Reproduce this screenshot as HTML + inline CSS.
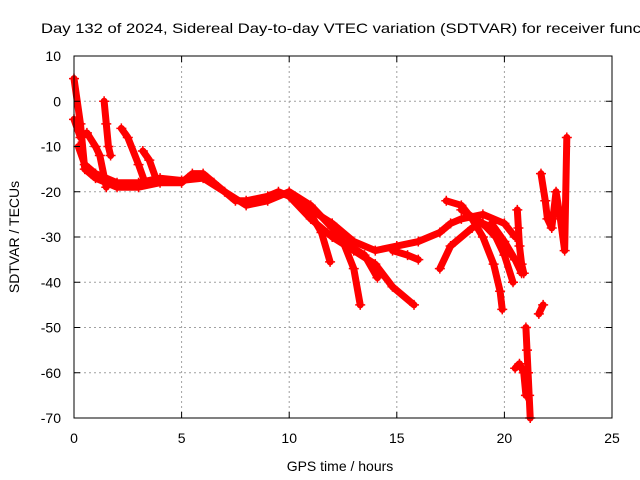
<!DOCTYPE html>
<html><head><meta charset="utf-8"><style>
body{margin:0;background:#fff;}
svg{display:block;font-family:"Liberation Sans",sans-serif;}
</style></head><body>
<svg id="chart" width="640" height="480" viewBox="0 0 640 480" xmlns="http://www.w3.org/2000/svg">
<rect width="640" height="480" fill="#fff"/>
<text x="41" y="33" font-size="14" textLength="600" lengthAdjust="spacingAndGlyphs" fill="#000">Day 132 of 2024, Sidereal Day-to-day VTEC variation (SDTVAR) for receiver func</text>
<g id="grid"></g>
<g id="series"></g>
<rect x="74" y="56" width="538" height="362" fill="none" stroke="#000" stroke-width="1"/>
<g id="ticks"></g>
<text x="340" y="471" font-size="14" text-anchor="middle">GPS time / hours</text>
<text transform="translate(19,237) rotate(-90)" font-size="14" text-anchor="middle">SDTVAR / TECUs</text>
</svg>
<script>
const xTicks=[0,5,10,15,20,25];
const yTicks=[10,0,-10,-20,-30,-40,-50,-60,-70];
const track1=[[0,5],[0.3,-5],[0.5,-15],[1,-17],[2,-19],[3,-19],[4,-18],[5,-18],[5.5,-16],[6,-16],[6.5,-18],[7.5,-22],[8,-22],[9,-21],[9.5,-20],[10,-21],[11,-24],[12,-27],[13,-31],[14,-33],[15,-32],[16,-31],[17,-29],[17.5,-27],[18,-26],[19,-25],[20,-27],[20.5,-30]];
const track2=[[0.2,-10],[0.5,-14],[1,-16],[2,-18],[3,-18],[4,-17],[5,-17.5],[6,-17],[7,-20],[8,-23],[9,-22],[10,-20],[11,-23],[12,-28],[12.5,-31],[13,-37],[13.3,-45]];
const track3=[[10,-21],[11,-26],[12,-30],[13,-33],[14,-36],[14.8,-41],[15.8,-45]];
const track4=[[11,-25],[11.5,-29],[11.9,-35.5]];
const track5=[[12.5,-31],[13.5,-34],[14.1,-39]];
const track6=[[0,-4],[0.3,-8],[0.6,-7],[1,-10],[1.2,-12],[1.5,-19]];
const track7=[[1.4,0],[1.5,-5],[1.6,-10],[1.7,-12]];
const track8=[[2.2,-6],[2.5,-8],[3,-14],[3.3,-18]];
const track9=[[3.2,-11],[3.5,-13],[3.8,-17]];
const track10=[[14.8,-33],[15.5,-34],[16,-35]];
const track11=[[17,-37],[17.5,-32],[18.5,-28],[19,-27],[19.5,-28],[20,-32],[20.5,-35]];
const track12=[[17.3,-22],[18,-23],[18.5,-26],[19,-30],[19.5,-36],[19.8,-42],[19.9,-46]];
const track13=[[18,-24],[19,-27],[19.6,-30],[20,-34],[20.4,-40]];
const track14=[[19.4,-27],[20,-31],[20.5,-35],[20.8,-38]];
const track15=[[20.6,-24],[20.65,-28],[20.7,-32],[20.8,-36],[20.9,-38]];
const track16=[[20.5,-59],[20.7,-58],[20.9,-60],[21,-65]];
const track17=[[21,-50],[21.05,-55],[21.1,-60],[21.15,-65],[21.2,-70]];
const track18=[[21.6,-47],[21.8,-45]];
const track19=[[21.7,-16],[21.9,-22],[22,-26],[22.2,-28],[22.4,-20],[22.6,-26],[22.8,-33],[22.9,-8]];
const tracks=[track1,track2,track3,track4,track5,track6,track7,track8,track9,track10,track11,track12,track13,track14,track15,track16,track17,track18,track19];
const X0=74,X1=612,Y0=418,Y1=56,XMIN=0,XMAX=25,YMIN=-70,YMAX=10;
const sx=v=>X0+(v-XMIN)/(XMAX-XMIN)*(X1-X0);
const sy=v=>Y0-(v-YMIN)/(YMAX-YMIN)*(Y0-Y1);
const NS="http://www.w3.org/2000/svg";
const grid=document.getElementById('grid'),ticks=document.getElementById('ticks'),series=document.getElementById('series');
function mk(tag,attrs,parent){const e=document.createElementNS(NS,tag);for(const k in attrs)e.setAttribute(k,attrs[k]);parent.appendChild(e);return e;}
xTicks.forEach(t=>{
  const x=sx(t);
  if(t>XMIN&&t<XMAX){const g=mk('line',{x1:x,x2:x,y1:Y0,y2:Y1,stroke:'#a0a0a0','stroke-dasharray':'2,3'},grid);
  
  }
  const l=mk('text',{x:x,y:Y0+25,'font-size':14,'text-anchor':'middle'},ticks);l.textContent=t;
  
  
  mk('line',{x1:x,x2:x,y1:Y0,y2:Y0-6,stroke:'#000'},ticks);
  mk('line',{x1:x,x2:x,y1:Y1,y2:Y1+6,stroke:'#000'},ticks);
});
yTicks.forEach(t=>{
  const y=sy(t);
  if(t>YMIN&&t<YMAX){const g=mk('line',{x1:X0,x2:X1,y1:y,y2:y,stroke:'#a0a0a0','stroke-dasharray':'2,3'},grid);
  
  }
  const l=mk('text',{x:X0-13,y:y+5,'font-size':14,'text-anchor':'end'},ticks);l.textContent=t;
  
  
  mk('line',{x1:X0,x2:X0+6,y1:y,y2:y,stroke:'#000'},ticks);
  mk('line',{x1:X1,x2:X1-6,y1:y,y2:y,stroke:'#000'},ticks);
});
tracks.forEach((tr,i)=>{
  const pts=tr.map(p=>sx(p[0])+','+sy(p[1])).join(' ');
  const pl=mk('polyline',{points:pts,fill:'none',stroke:'#f00','stroke-width':7,'stroke-linejoin':'round','stroke-linecap':'round'},series);
  
  
  tr.forEach(p=>{
    const x=sx(p[0]),y=sy(p[1]);
    const m=mk('path',{d:`M${x-5},${y}H${x+5}M${x},${y-5}V${y+5}`,stroke:'#f00','stroke-width':1.5},series);
    
    
  });
});
</script>
</body></html>
